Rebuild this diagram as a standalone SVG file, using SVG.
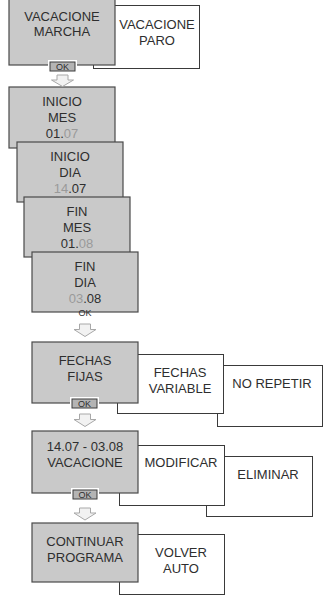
<svg xmlns="http://www.w3.org/2000/svg" width="326" height="596" viewBox="0 0 326 596">
<style>
.g{fill:#c9c9c9;stroke:#4a4a4a;stroke-width:1.2}
.w{fill:#fff;stroke:#3a3a3a;stroke-width:1}
.t{font-family:"Liberation Sans",Arial,sans-serif;font-size:13px;fill:#2e2e2e;text-anchor:middle}
.d{fill:#9a9a9a}
.okw{fill:#fff;stroke:none}
.okb{fill:#b4b4b4;stroke:#3c3c3c;stroke-width:1}
.okt{font-family:"Liberation Sans",Arial,sans-serif;font-size:9px;fill:#2e2e2e;text-anchor:middle}
.ar{fill:#f2f2f2;stroke:#a8a8a8;stroke-width:1}
</style>
<rect width="326" height="596" fill="#fff"/>
<g id="paro"><rect class="w" x="93.5" y="5.5" width="106" height="63"/><text class="t" x="157" y="29">VACACIONE</text><text class="t" x="157" y="45">PARO</text></g>
<g id="marcha"><rect class="g" x="9" y="-2" width="106" height="67"/><text class="t" x="62" y="20.5">VACACIONE</text><text class="t" x="62" y="36">MARCHA</text>
<rect class="okw" x="48" y="60" width="29" height="13"/><rect class="okb" x="50" y="62" width="25" height="9"/><text class="okt" x="62.5" y="70">OK</text></g>
<g id="inicio-mes"><rect class="g" x="9" y="87" width="106" height="61"/><text class="t" x="62" y="106">INICIO</text><text class="t" x="62" y="122">MES</text><text class="t" x="62" y="138">01.<tspan class="d">07</tspan></text></g>
<g id="inicio-dia"><rect class="g" x="17" y="142" width="106" height="60"/><text class="t" x="70" y="161">INICIO</text><text class="t" x="70" y="177">DIA</text><text class="t" x="70" y="193"><tspan class="d">14</tspan>.07</text></g>
<g id="fin-mes"><rect class="g" x="24" y="197" width="106" height="60"/><text class="t" x="77" y="216">FIN</text><text class="t" x="77" y="232">MES</text><text class="t" x="77" y="248">01.<tspan class="d">08</tspan></text></g>
<g id="fin-dia"><rect class="g" x="32" y="252" width="106" height="60"/><text class="t" x="85" y="271">FIN</text><text class="t" x="85" y="287">DIA</text><text class="t" x="85" y="303"><tspan class="d">03</tspan>.08</text><text class="okt" x="85" y="316">OK</text></g>
<g id="no-repetir"><rect class="w" x="217.5" y="365.5" width="105" height="61"/><text class="t" x="272" y="388">NO REPETIR</text></g>
<g id="fechas-variable"><rect class="w" x="117.5" y="354.5" width="106" height="59"/><text class="t" x="180" y="377">FECHAS</text><text class="t" x="180" y="393">VARIABLE</text></g>
<g id="fechas-fijas"><rect class="g" x="32" y="342" width="106" height="61"/><text class="t" x="85" y="365">FECHAS</text><text class="t" x="85" y="381">FIJAS</text>
<rect class="okw" x="70" y="397" width="29" height="13"/><rect class="okb" x="72" y="399" width="25" height="9"/><text class="okt" x="84.5" y="407">OK</text></g>
<g id="eliminar"><rect class="w" x="206.5" y="456.5" width="106" height="60"/><text class="t" x="268" y="479">ELIMINAR</text></g>
<g id="modificar"><rect class="w" x="119.5" y="445.5" width="105" height="60"/><text class="t" x="181" y="467">MODIFICAR</text></g>
<g id="vacacione"><rect class="g" x="32" y="431" width="106" height="62"/><text class="t" x="85" y="451">14.07 - 03.08</text><text class="t" x="85" y="467">VACACIONE</text>
<rect class="okw" x="71" y="488" width="28" height="13"/><rect class="okb" x="73" y="490" width="24" height="9"/><text class="okt" x="85" y="498">OK</text></g>
<g id="volver-auto"><rect class="w" x="119.5" y="534.5" width="105" height="60"/><text class="t" x="181" y="557">VOLVER</text><text class="t" x="181" y="573">AUTO</text></g>
<g id="continuar"><rect class="g" x="32" y="523" width="106" height="59"/><text class="t" x="85" y="546">CONTINUAR</text><text class="t" x="85" y="562">PROGRAMA</text></g>
<g id="connectors">
<polygon class="ar" points="57,75 68,75 68,80 73.5,80 62.5,86.5 51.5,80 57,80"/>
<polygon class="ar" points="79.5,324 90.5,324 90.5,329.5 96,329.5 85,336.5 74,329.5 79.5,329.5"/>
<polygon class="ar" points="79.5,414 90.5,414 90.5,419.5 96,419.5 85,426.5 74,419.5 79.5,419.5"/>
<polygon class="ar" points="79.5,508 90.5,508 90.5,513 96,513 85,520 74,513 79.5,513"/>
</g>
</svg>
